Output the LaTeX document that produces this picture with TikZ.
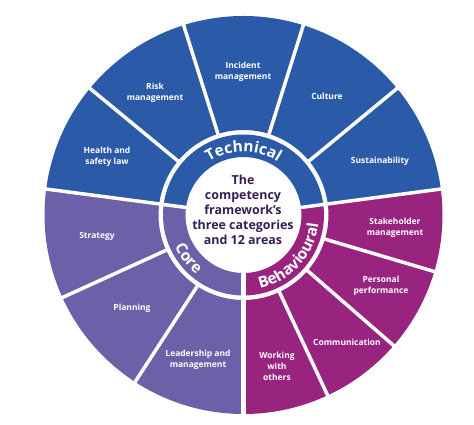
\documentclass[tikz,border=0pt]{standalone}
\usepackage{fontspec}
\setmainfont{Open Sans}
\usetikzlibrary{decorations.text}
\definecolor{techblue}{HTML}{2B5AA8}
\definecolor{corepurple}{HTML}{6D60A8}
\definecolor{behavmagenta}{HTML}{982480}
\definecolor{centretext}{HTML}{341E55}
\newcommand{\ringfont}{\fontsize{15.5}{17}\selectfont\bfseries}

\begin{document}
\begin{tikzpicture}[
x=1bp, y=1bp,
area/.style={text=white, font=\fontsize{8.5}{11}\selectfont\bfseries, align=center},
gap/.style={white, line width=3.5bp},
catlabel/.style={decorate, decoration={text along path, text align=center, text color=white}}
]
\useasboundingbox (-243.5,-209) rectangle (230.5,215);
\fill[techblue] (7.5:85) arc[start angle=7.5, end angle=172.5, radius=85] -- (172.5:199) arc[start angle=172.5, end angle=7.5, radius=199] -- cycle;
\fill[corepurple] (172.5:85) arc[start angle=172.5, end angle=270, radius=85] -- (270:199) arc[start angle=270, end angle=172.5, radius=199] -- cycle;
\fill[behavmagenta] (270:85) arc[start angle=270, end angle=367.5, radius=85] -- (367.5:199) arc[start angle=367.5, end angle=270, radius=199] -- cycle;
\fill[techblue] (7.5:58) arc[start angle=7.5, end angle=172.5, radius=58] -- (172.5:80.5) arc[start angle=172.5, end angle=7.5, radius=80.5] -- cycle;
\fill[corepurple] (172.5:58) arc[start angle=172.5, end angle=270, radius=58] -- (270:80.5) arc[start angle=270, end angle=172.5, radius=80.5] -- cycle;
\fill[behavmagenta] (270:58) arc[start angle=270, end angle=367.5, radius=58] -- (367.5:80.5) arc[start angle=367.5, end angle=270, radius=80.5] -- cycle;
\draw[gap] (7.5:55) -- (7.5:202);
\draw[gap] (172.5:55) -- (172.5:202);
\draw[gap, line width=4.5bp] (270:55) -- (270:202);
\draw[gap] (39.5:83) -- (39.5:202);
\draw[gap] (72.5:83) -- (72.5:202);
\draw[gap] (107.5:83) -- (107.5:202);
\draw[gap] (140.5:83) -- (140.5:202);
\draw[gap] (204.5:83) -- (204.5:202);
\draw[gap] (237:83) -- (237:202);
\draw[gap] (295:83) -- (295:202);
\draw[gap] (319:83) -- (319:202);
\draw[gap] (343.5:83) -- (343.5:202);
\path[catlabel, decoration={text={|\ringfont|Technical}}] (150:63.5) arc[start angle=150, end angle=30, radius=63.5];
\path[catlabel, decoration={text={|\ringfont|Core}}] (172:75.5) arc[start angle=172, end angle=264, radius=75.5];
\path[catlabel, decoration={text={|\ringfont|Behavioural}}] (272:75.5) arc[start angle=272, end angle=364, radius=75.5];
\node[text=centretext, font=\fontsize{12.5}{15}\selectfont\bfseries, align=center] (centre) at (-0.5,5) {The\\competency\\framework’s\\three categories\\and 12 areas};
\node[area] (hsl) at (-136.5,58) {Health and\\safety law};
\node[area] (risk) at (-88.5,122) {Risk\\management};
\node[area] (incident) at (-0.5,143) {Incident\\management};
\node[area] (culture) at (83.5,119) {Culture};
\node[area] (sustain) at (136.5,54) {Sustainability};
\node[area] (stake) at (151.5,-13) {Stakeholder\\management};
\node[area] (personal) at (137.5,-71) {Personal\\performance};
\node[area] (comms) at (103.5,-127) {Communication};
\node[area] (working) at (33.5,-151) {Working\\with\\others};
\node[area] (leader) at (-45.5,-145) {Leadership and\\management};
\node[area] (planning) at (-111.5,-93) {Planning};
\node[area] (strategy) at (-146.5,-21) {Strategy};
\end{tikzpicture}
\end{document}
